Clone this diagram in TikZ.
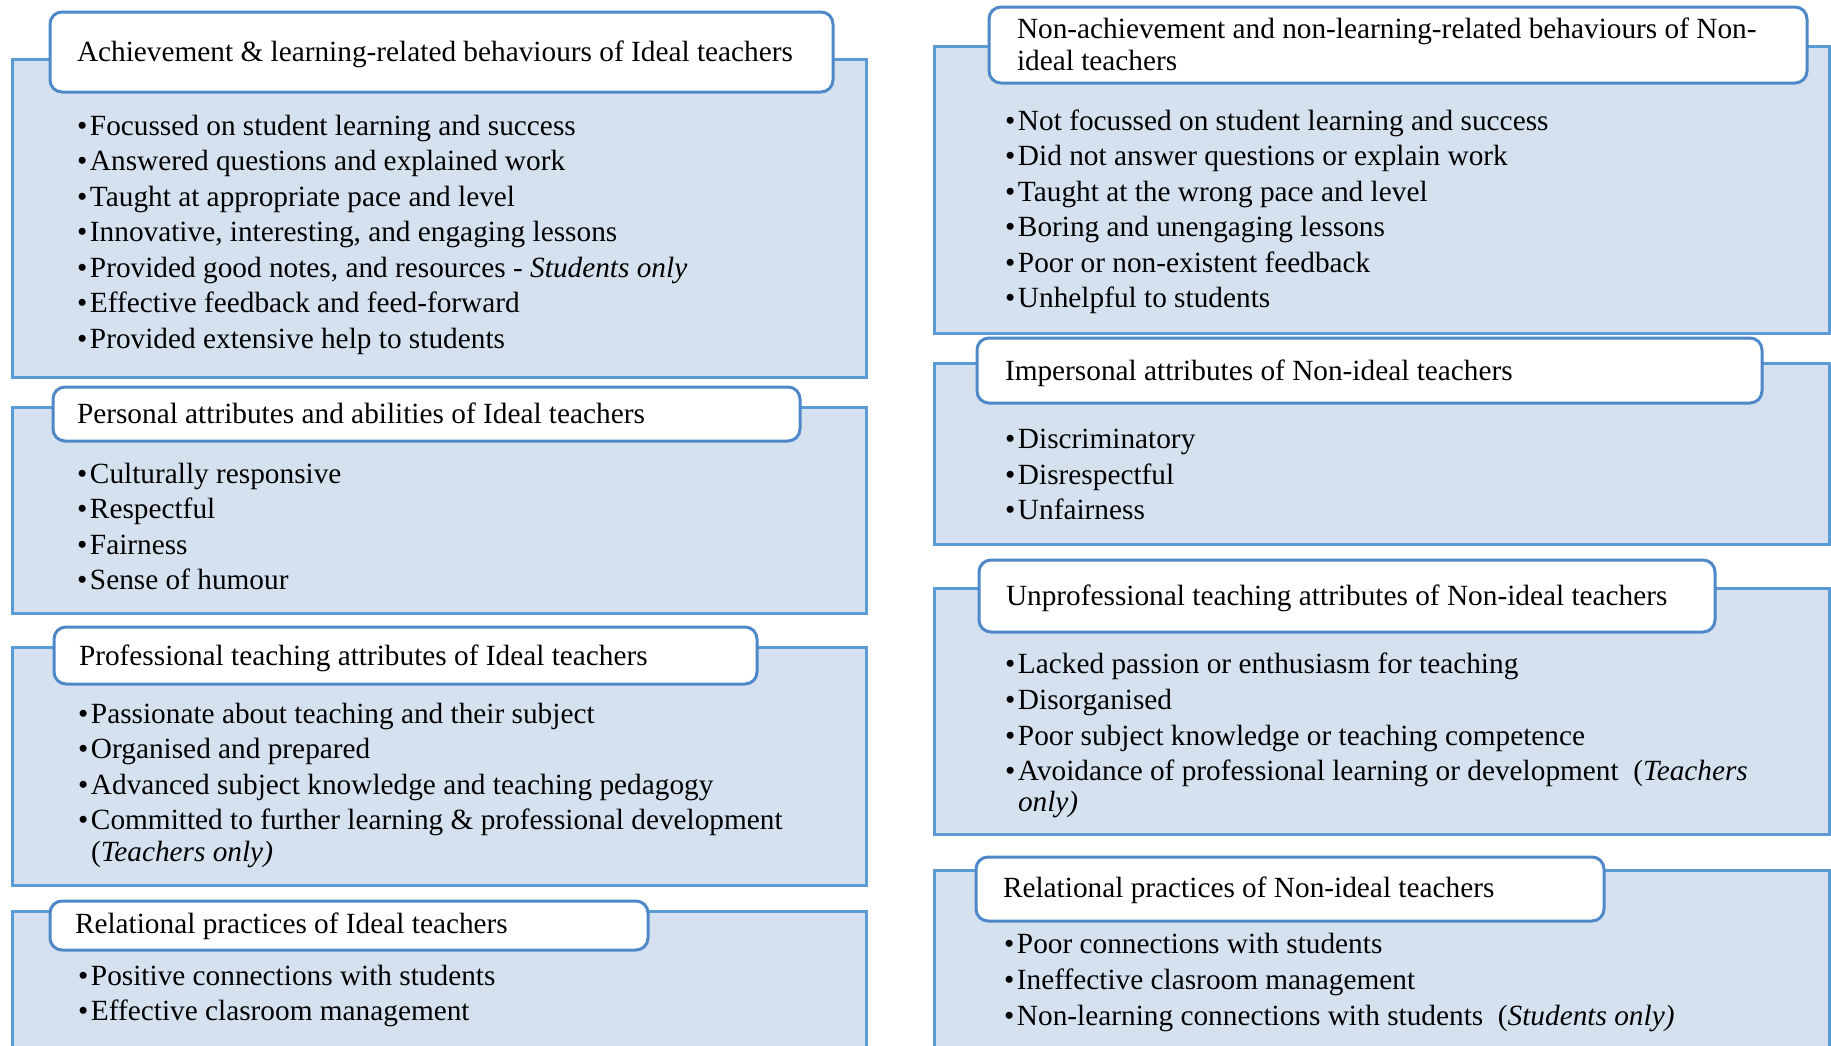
\documentclass[tikz,border=0pt]{standalone}
\usepackage{fontspec}
\setmainfont{Liberation Serif}
\definecolor{panelfill}{HTML}{D6E1EF}
\definecolor{panelline}{HTML}{5B9BD5}
\definecolor{headline}{HTML}{4F88C8}
\tikzset{
  panelbox/.style={fill=panelfill, draw=panelline, line width=3pt},
  headbox/.style={fill=white, draw=headline, line width=3pt, rounded corners=12pt},
  txt/.style={anchor=base west, inner sep=0pt, outer sep=0pt,
    font=\fontsize{29.3pt}{35.5pt}\selectfont},
}
% one bulleted line: name, x, baseline y, text
\newcommand\bulletline[4]{\node[txt] (#1) at (#2,#3) {\makebox[13pt][l]{\textbullet}#4};}
\begin{document}
\begin{tikzpicture}[x=1pt, y=-1pt]
\useasboundingbox (0,0) rectangle (1831,1045);
\clip (0,0) rectangle (1831,1045);
\fill[white] (0,0) rectangle (1831,1045);

% ---------- left column: Ideal teachers ----------
\draw[panelbox] (12,59) rectangle (866,377);
\draw[headbox] (50,12) rectangle (833,92);
\node[txt] (lh1) at (77,61) {Achievement \& learning-related behaviours of Ideal teachers};
\bulletline{la1}{77}{135}{Focussed on student learning and success}
\bulletline{la2}{77}{170.5}{Answered questions and explained work}
\bulletline{la3}{77}{206}{Taught at appropriate pace and level}
\bulletline{la4}{77}{241.5}{Innovative, interesting, and engaging lessons}
\bulletline{la5}{77}{277}{Provided good notes, and resources - \textit{Students only}}
\bulletline{la6}{77}{312.5}{Effective feedback and feed-forward}
\bulletline{la7}{77}{348}{Provided extensive help to students}

\draw[panelbox] (12,407) rectangle (866,613);
\draw[headbox] (53,387) rectangle (800,441);
\node[txt] (lh2) at (77,423) {Personal attributes and abilities of Ideal teachers};
\bulletline{lb1}{77}{483}{Culturally responsive}
\bulletline{lb2}{77}{518}{Respectful}
\bulletline{lb3}{77}{554}{Fairness}
\bulletline{lb4}{77}{589}{Sense of humour}

\draw[panelbox] (12,647) rectangle (866,885);
\draw[headbox] (54,627) rectangle (757,684);
\node[txt] (lh3) at (79,665) {Professional teaching attributes of Ideal teachers};
\bulletline{lc1}{78}{723}{Passionate about teaching and their subject}
\bulletline{lc2}{78}{758}{Organised and prepared}
\bulletline{lc3}{78}{794}{Advanced subject knowledge and teaching pedagogy}
\bulletline{lc4}{78}{829}{Committed to further learning \& professional development}
\node[txt] (lc4b) at (91,861) {(\textit{Teachers only)}};

\draw[panelbox] (12,911) rectangle (866,1070);
\draw[headbox] (50,901) rectangle (648,950);
\node[txt] (lh4) at (75,933) {Relational practices of Ideal teachers};
\bulletline{ld1}{78}{985}{Positive connections with students}
\bulletline{ld2}{78}{1020}{Effective clasroom management}

% ---------- right column: Non-ideal teachers ----------
\draw[panelbox] (934,46) rectangle (1829.5,333);
\draw[headbox] (989,7) rectangle (1807,83);
\node[txt] (rh1a) at (1017,38) {Non-achievement and non-learning-related behaviours of Non-};
\node[txt] (rh1b) at (1017,70) {ideal teachers};
\bulletline{ra1}{1005}{130}{Not focussed on student learning and success}
\bulletline{ra2}{1005}{165.5}{Did not answer questions or explain work}
\bulletline{ra3}{1005}{201}{Taught at the wrong pace and level}
\bulletline{ra4}{1005}{236.5}{Boring and unengaging lessons}
\bulletline{ra5}{1005}{272}{Poor or non-existent feedback}
\bulletline{ra6}{1005}{307.5}{Unhelpful to students}

\draw[panelbox] (934,363) rectangle (1829.5,544);
\draw[headbox] (977,338) rectangle (1762,403);
\node[txt] (rh2) at (1005,380) {Impersonal attributes of Non-ideal teachers};
\bulletline{rb1}{1005}{448}{Discriminatory}
\bulletline{rb2}{1005}{484}{Disrespectful}
\bulletline{rb3}{1005}{519}{Unfairness}

\draw[panelbox] (934,588) rectangle (1829.5,834);
\draw[headbox] (979,560) rectangle (1715,632);
\node[txt] (rh3) at (1006,605) {Unprofessional teaching attributes of Non-ideal teachers};
\bulletline{rc1}{1005}{673}{Lacked passion or enthusiasm for teaching}
\bulletline{rc2}{1005}{709}{Disorganised}
\bulletline{rc3}{1005}{745}{Poor subject knowledge or teaching competence}
\bulletline{rc4}{1005}{780}{Avoidance of professional learning or development\ \ (\textit{Teachers}}
\node[txt] (rc4b) at (1018,811) {\textit{only)}};

\draw[panelbox] (934,870) rectangle (1829.5,1070);
\draw[headbox] (976,857) rectangle (1604,921);
\node[txt] (rh4) at (1003,897) {Relational practices of Non-ideal teachers};
\bulletline{rd1}{1004}{953}{Poor connections with students}
\bulletline{rd2}{1004}{989}{Ineffective clasroom management}
\bulletline{rd3}{1004}{1025}{Non-learning connections with students\ \ (\textit{Students only)}}
\end{tikzpicture}
\end{document}
